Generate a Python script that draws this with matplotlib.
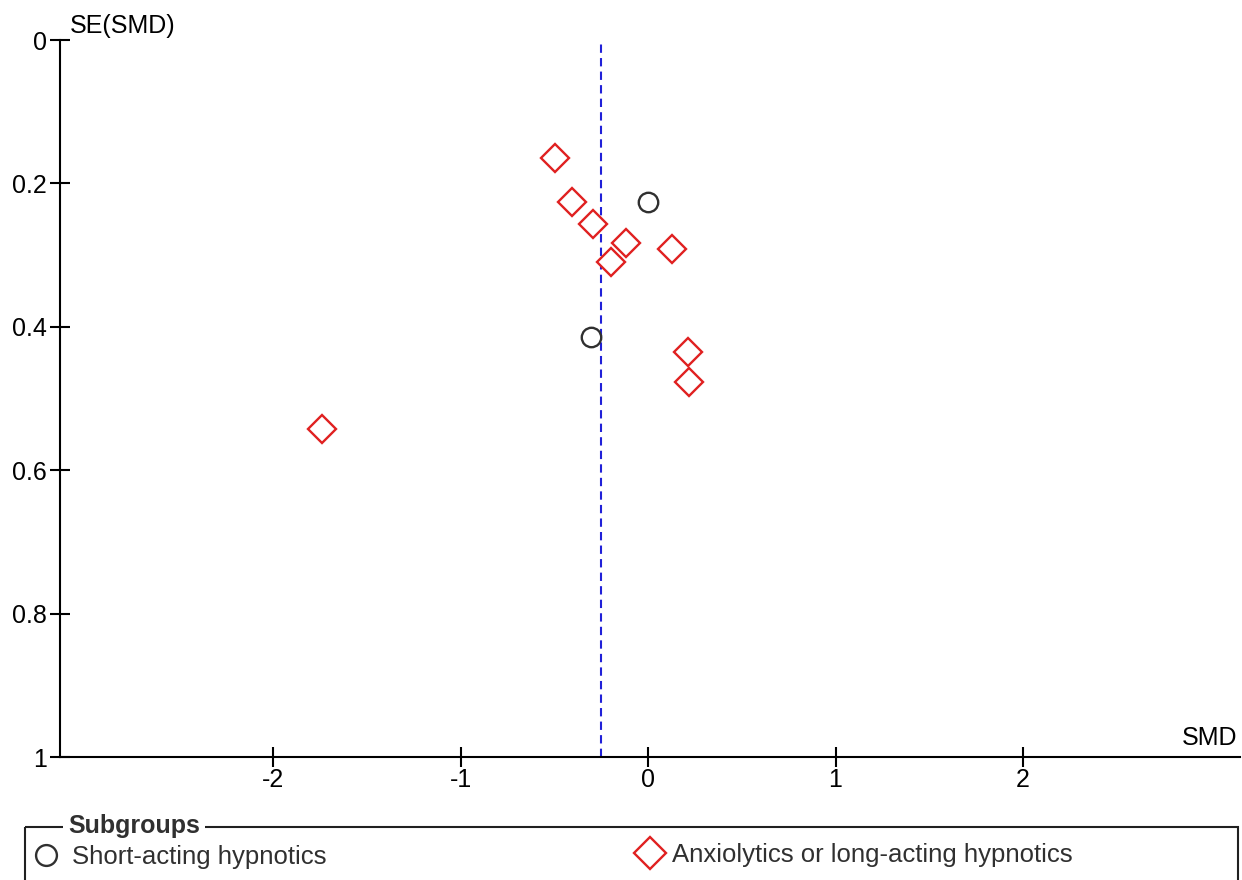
import numpy as np
import matplotlib
matplotlib.use("Agg")
import matplotlib.pyplot as plt
from matplotlib.patches import Rectangle

plt.rcParams['font.family'] = ['Liberation Sans', 'DejaVu Sans']

# funnel plot data: SMD and SE(SMD) per study
short_smd = [0.002, -0.305]
short_se = [0.226, 0.414]
long_smd = [-0.496, -0.407, -0.292, -0.119, -0.199, 0.130, 0.212, 0.220, -1.740]
long_se = [0.164, 0.226, 0.257, 0.283, 0.310, 0.292, 0.435, 0.477, 0.542]
pooled_smd = -0.251
x_ticks = [-2, -1, 0, 1, 2]
y_ticks = [0, 0.2, 0.4, 0.6, 0.8, 1]
y_ticklabels = ["0", "0.2", "0.4", "0.6", "0.8", "1"]
group_names = ["Short-acting hypnotics", "Anxiolytics or long-acting hypnotics"]

W, H = 1242, 880
fig = plt.figure(figsize=(W / 100, H / 100), dpi=100)
ax = fig.add_axes([60 / W, 1 - 757 / H, 1180 / W, 717 / H])

red = "#e02020"
dark = "#303030"

ax.axvline(pooled_smd, color="#2020d8", ls=(0, (4, 2.5)), lw=1.5, zorder=1)
ax.plot(long_smd, long_se, ls="none", marker="D", ms=14, mfc="white",
        mec=red, mew=1.7, zorder=3)
ax.plot(short_smd, short_se, ls="none", marker="o", ms=14, mfc="white",
        mec=dark, mew=1.7, zorder=3)

ax.set_xlim(-3.136, 3.157)
ax.set_ylim(1, 0)
ax.set_xticks(x_ticks)
ax.set_xticklabels([str(t) for t in x_ticks])
ax.set_yticks(y_ticks)
ax.set_yticklabels(y_ticklabels)
for s in ["top", "right"]:
    ax.spines[s].set_visible(False)
for s in ["left", "bottom"]:
    ax.spines[s].set_linewidth(1.5)
ax.tick_params(axis="both", direction="inout", length=14, width=1.5,
               labelsize=18, colors="black")
ax.tick_params(axis="y", pad=2.5)
ax.tick_params(axis="x", pad=1)

fig.text(70 / W, 1 - 33 / H, "SE(SMD)", fontsize=18, ha="left", va="baseline")
fig.text(1237 / W, 1 - 745 / H, "SMD", fontsize=18, ha="right", va="baseline")

# legend box drawn in pixel coordinates
lg = fig.add_axes([0, 0, 1, 1], zorder=-1)
lg.set_xlim(0, W)
lg.set_ylim(H, 0)
lg.axis("off")
lg.add_patch(Rectangle((25, 827), 1213, 80, fill=False, ec="#202020", lw=1.5))
lg.text(68, 833, "Subgroups", fontsize=18, fontweight="bold", color=dark,
        ha="left", va="baseline",
        bbox=dict(fc="white", ec="none", pad=4))
lg.plot([46], [855], ls="none", marker="o", ms=15, mfc="white", mec=dark, mew=1.7)
lg.text(72, 864, group_names[0], fontsize=18.5, color=dark, ha="left", va="baseline")
lg.plot([650], [853], ls="none", marker="D", ms=16.5, mfc="white", mec=red, mew=1.7)
lg.text(672, 862, group_names[1], fontsize=18.5, color=dark, ha="left", va="baseline")

fig.savefig("out.png", dpi=100)
